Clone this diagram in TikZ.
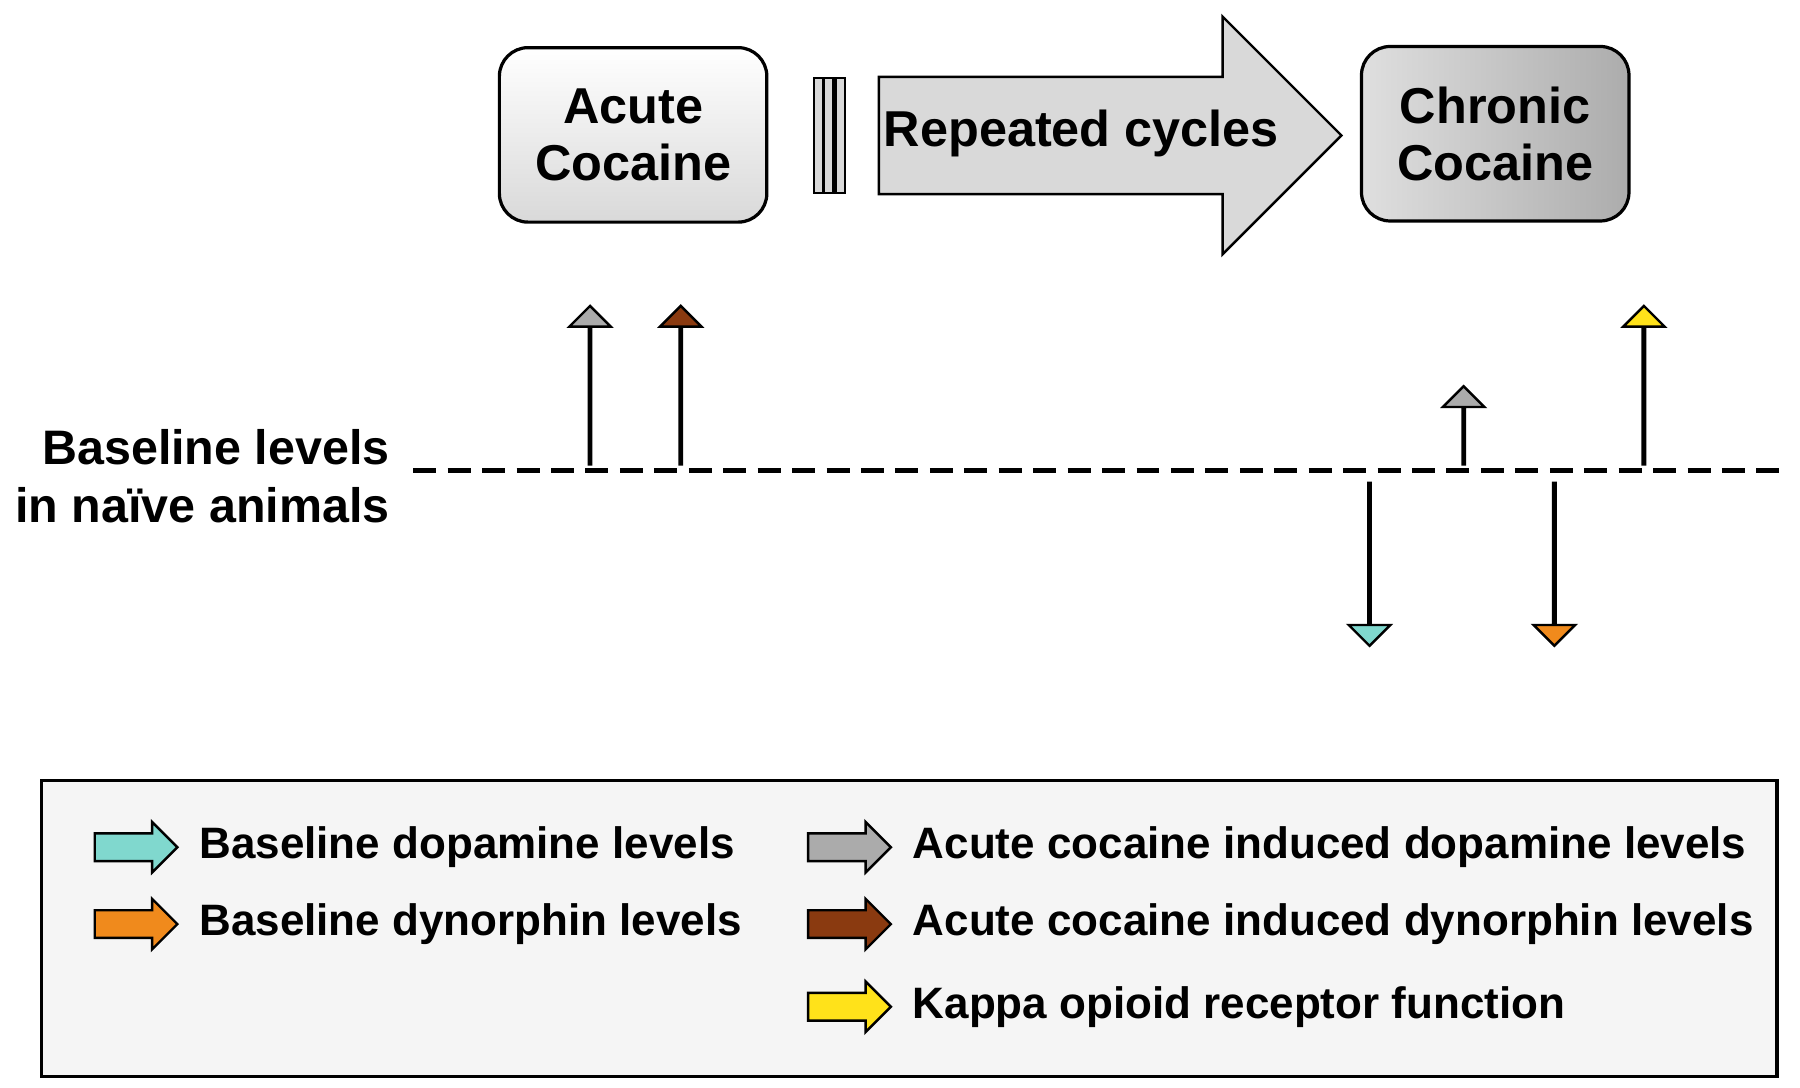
\documentclass[tikz,border=0pt]{standalone}
\usepackage{fontspec}
\setmainfont{Liberation Sans}
\usetikzlibrary{shapes.arrows,positioning}
\definecolor{teal1}{HTML}{80D8CE}
\definecolor{orange1}{HTML}{F08A1C}
\definecolor{brown1}{HTML}{8A3A10}
\definecolor{gray1}{HTML}{ABABAB}
\definecolor{yellow1}{HTML}{FFE21A}
\tikzset{
	stage/.style={
		draw, thick,
		rounded corners=0.25cm,
		minimum width=2.33cm,
		minimum height=1.52cm,
		align=center,
		font=\fontsize{12.5}{14}\selectfont\bfseries
	},
	level/.style={
		single arrow, draw, semithick,
		inner xsep=0pt, inner ysep=0.17cm,
		single arrow head extend=0.17cm,
		single arrow tip angle=90
	},
	key/.style={
		level, minimum height=0.72cm,
		inner ysep=0.11cm,
		single arrow head extend=0.1cm
	},
	keytext/.style={
		anchor=west, inner xsep=0pt,
		font=\fontsize{10.9}{12}\selectfont\bfseries
	}
}
\begin{document}
\begin{tikzpicture}[x=1cm,y=-1cm]
	\useasboundingbox (0,0) rectangle (15.68,9.47);

	% stages
	\node[stage, top color=white, bottom color=gray!30] (acute) at (5.515,1.175) {Acute\\Cocaine};
	\node[stage, left color=gray!25, right color=gray!65] (chronic) at (13.025,1.165) {Chronic\\Cocaine};

	% repeated cycles
	\node[single arrow, draw, semithick, fill=gray!30,
		inner xsep=0pt, inner ysep=0.5cm, minimum height=4.03cm,
		single arrow head extend=0.525cm, single arrow tip angle=90] (cycles) at (9.415,1.18) {};
	\node[font=\fontsize{12.5}{14}\selectfont\bfseries] (cyclestext) at (9.42,1.16) {Repeated cycles};
	\foreach \x/\n in {7.13/a,7.22/b,7.32/c}
		\node[draw, semithick, fill=gray!30, minimum width=0.08cm, minimum height=1.0cm, inner sep=0pt] (bar\n) at (\x,1.18) {};

	% baseline
	\coordinate (base l) at (3.6,4.1);
	\coordinate (base r) at (15.58,4.1);
	\draw[very thick, dash pattern=on 0.2cm off 0.1cm] (base l) -- (base r);
	\node[anchor=east, align=right, inner sep=0pt, font=\fontsize{12}{14.3}\selectfont\bfseries] (baselabel) at (3.4,4.15) {Baseline levels\\in na\"ive animals};

	% level changes
	\node[level, fill=gray1, minimum height=1.38cm, shape border rotate=90] (acgray) at (5.14,3.36) {};
	\node[level, fill=brown1, minimum height=1.38cm, shape border rotate=90] (acbrown) at (5.93,3.36) {};
	\node[level, fill=gray1, minimum height=0.68cm, shape border rotate=90] (chgray) at (12.75,3.71) {};
	\node[level, fill=yellow1, minimum height=1.38cm, shape border rotate=90] (chyellow) at (14.32,3.36) {};
	\node[level, fill=teal1, minimum height=1.42cm, shape border rotate=270] (chteal) at (11.93,4.91) {};
	\node[level, fill=orange1, minimum height=1.42cm, shape border rotate=270] (chorange) at (13.54,4.91) {};

	% legend
	\node[draw, thick, fill=gray!8, minimum width=15.12cm, minimum height=2.58cm, inner sep=0pt] (legend) at (7.92,8.09) {};
	\node[key, fill=teal1] (k1) at (1.125,7.38) {};
	\node[keytext, right=0.17cm of k1] {Baseline dopamine levels};
	\node[key, fill=orange1] (k2) at (1.125,8.05) {};
	\node[keytext, right=0.17cm of k2] {Baseline dynorphin levels};
	\node[key, fill=gray1] (k3) at (7.34,7.38) {};
	\node[keytext, right=0.17cm of k3] {Acute cocaine induced dopamine levels};
	\node[key, fill=brown1] (k4) at (7.34,8.05) {};
	\node[keytext, right=0.17cm of k4] {Acute cocaine induced dynorphin levels};
	\node[key, fill=yellow1] (k5) at (7.34,8.77) {};
	\node[keytext, right=0.17cm of k5] {Kappa opioid receptor function};
\end{tikzpicture}
\end{document}
